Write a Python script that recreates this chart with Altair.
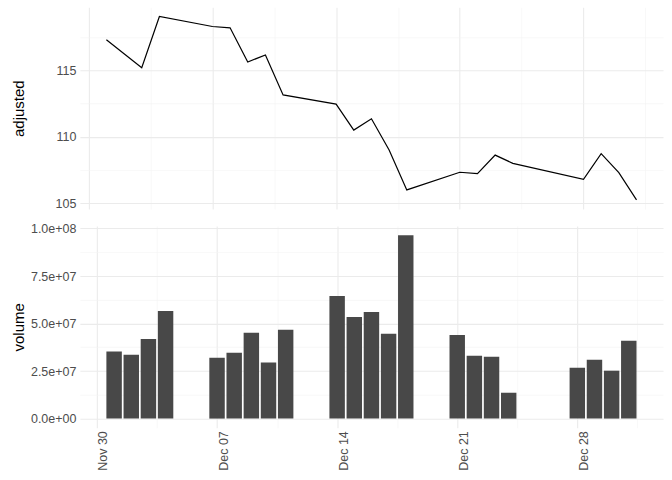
import altair as alt
import pandas as pd

dates = ["2020-12-01", "2020-12-02", "2020-12-03", "2020-12-04",
         "2020-12-07", "2020-12-08", "2020-12-09", "2020-12-10", "2020-12-11",
         "2020-12-14", "2020-12-15", "2020-12-16", "2020-12-17", "2020-12-18",
         "2020-12-21", "2020-12-22", "2020-12-23", "2020-12-24",
         "2020-12-28", "2020-12-29", "2020-12-30", "2020-12-31"]
adjusted = [117.3, 116.25, 115.2, 119.05,
            118.3, 118.2, 115.63, 116.15, 113.15,
            112.46, 110.5, 111.35, 109.0, 106.0,
            107.33, 107.23, 108.62, 108.0,
            106.8, 108.73, 107.3, 105.25]
volume = [3.53e7, 3.36e7, 4.19e7, 5.66e7,
          3.20e7, 3.46e7, 4.51e7, 2.95e7, 4.67e7,
          6.45e7, 5.35e7, 5.61e7, 4.46e7, 9.65e7,
          4.40e7, 3.30e7, 3.25e7, 1.36e7,
          2.67e7, 3.09e7, 2.52e7, 4.09e7]

df = pd.DataFrame({
    "date": [d + "T00:00:00" for d in dates],
    "adjusted": adjusted,
    "volume": volume,
})

FONT = "Liberation Sans"
MAJOR = "#EBEBEB"
MINOR = "#F4F4F4"

x_values = [
    alt.DateTime(year=2020, month=11, date=30),
    alt.DateTime(year=2020, month=12, date=3, hours=12),
    alt.DateTime(year=2020, month=12, date=7),
    alt.DateTime(year=2020, month=12, date=10, hours=12),
    alt.DateTime(year=2020, month=12, date=14),
    alt.DateTime(year=2020, month=12, date=17, hours=12),
    alt.DateTime(year=2020, month=12, date=21),
    alt.DateTime(year=2020, month=12, date=24, hours=12),
    alt.DateTime(year=2020, month=12, date=28),
    alt.DateTime(year=2020, month=12, date=31, hours=12),
]

x_major_test = "hours(datum.value) == 0"
grid_color_x = {"condition": {"test": x_major_test, "value": MAJOR}, "value": MINOR}
grid_width_x = {"condition": {"test": x_major_test, "value": 1.1}, "value": 0.6}

axis_common = dict(
    domain=False, ticks=False, labelFont=FONT, titleFont=FONT,
    labelColor="#4D4D4D", labelFontSize=12.5, titleFontSize=15,
    titleFontWeight="normal", titleColor="#000000",
)

# ---- top panel ----
top_x_axis = alt.Axis(values=x_values, labels=False, title=None,
                      gridColor=grid_color_x, gridWidth=grid_width_x,
                      domain=False, ticks=False)
y_top_test = "datum.value % 5 == 0"
top_y_axis = alt.Axis(
    values=[105, 107.5, 110, 112.5, 115, 117.5],
    labelExpr="datum.value % 5 == 0 ? format(datum.value, 'd') : ''",
    gridColor={"condition": {"test": y_top_test, "value": MAJOR}, "value": MINOR},
    gridWidth={"condition": {"test": y_top_test, "value": 1.1}, "value": 0.6},
    labelPadding=4, titleX=-53, title="adjusted", **axis_common,
)

top = alt.Chart(df).mark_line(color="black", strokeWidth=1.2).encode(
    x=alt.X("date:T",
            scale=alt.Scale(domain=[alt.DateTime(year=2020, month=11, date=29, hours=12),
                                    alt.DateTime(year=2021, month=1, date=1, hours=12)]),
            axis=top_x_axis),
    y=alt.Y("adjusted:Q", scale=alt.Scale(domain=[104.56, 119.74], nice=False, zero=False),
            axis=top_y_axis),
).properties(width=584, height=202)

# ---- bottom panel ----
bot_x_axis = alt.Axis(
    values=x_values,
    labelExpr="hours(datum.value) == 0 ? timeFormat(datum.value, '%b %d') : ''",
    gridColor=grid_color_x, gridWidth=grid_width_x,
    labelAngle=270, labelAlign="right", labelBaseline="top", labelPadding=3,
    title=None, **axis_common,
)
y_bot_test = "datum.value % 25000000 == 0"
bot_y_axis = alt.Axis(
    values=[0, 1.25e7, 2.5e7, 3.75e7, 5e7, 6.25e7, 7.5e7, 8.75e7, 1e8],
    labelExpr=("datum.value % 25000000 != 0 ? '' : datum.value == 0 ? '0.0e+00' : "
               "datum.value == 100000000 ? '1.0e+08' : format(datum.value / 10000000, '.1f') + 'e+07'"),
    gridColor={"condition": {"test": y_bot_test, "value": MAJOR}, "value": MINOR},
    gridWidth={"condition": {"test": y_bot_test, "value": 1.1}, "value": 0.6},
    labelPadding=4, titleX=-53, title="volume", **axis_common,
)

bottom = alt.Chart(df).transform_calculate(
    x_start="toDate(datum.date) - 0.45 * 86400000",
    x_end="toDate(datum.date) + 0.45 * 86400000",
).mark_bar(color="#484848").encode(
    x=alt.X("x_start:T",
            scale=alt.Scale(domain=[alt.DateTime(year=2020, month=11, date=29, minutes=7),
                                    alt.DateTime(year=2021, month=1, date=1, hours=23, minutes=53)]),
            axis=bot_x_axis),
    x2="x_end:T",
    y=alt.Y("volume:Q", scale=alt.Scale(domain=[-4.8e6, 1.013e8], nice=False, zero=False),
            axis=bot_y_axis),
    y2=alt.datum(0),
).properties(width=584, height=202)

chart = alt.vconcat(top, bottom, spacing=12).properties(
    padding={"left": 12, "top": 7, "right": 9, "bottom": 5},
    background="white",
).configure_view(stroke=None)

chart.save("out.html", embed_options={"renderer": "svg", "actions": False})
